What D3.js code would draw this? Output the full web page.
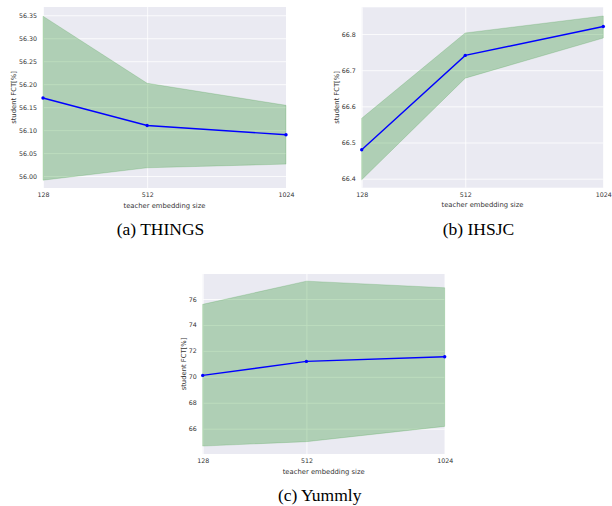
<!DOCTYPE html>
<html>
<head>
<meta charset="utf-8">
<script src="https://cdn.jsdelivr.net/npm/d3@7"></script>
<style>
  body { margin: 0; background: #fff; }
  text { font-family: "DejaVu Sans", sans-serif; }
</style>
</head>
<body>
<div id="area"></div>
<script>
// teacher embedding sizes (x)
var sizes = [128, 512, 1024];

// THINGS
var thingsMean = [56.17, 56.11, 56.09];
var thingsLow = [55.991, 56.018, 56.026];
var thingsHigh = [56.348, 56.202, 56.154];
var thingsTicks = [56.00, 56.05, 56.10, 56.15, 56.20, 56.25, 56.30, 56.35];

// IHSJC
var ihsjcMean = [66.48, 66.741, 66.821];
var ihsjcLow = [66.397, 66.678, 66.789];
var ihsjcHigh = [66.567, 66.803, 66.85];
var ihsjcTicks = [66.4, 66.5, 66.6, 66.7, 66.8];

// Yummly
var yummlyMean = [70.11, 71.19, 71.55];
var yummlyLow = [64.66, 65.0, 66.18];
var yummlyHigh = [75.59, 77.38, 76.87];
var yummlyTicks = [66, 68, 70, 72, 74, 76];

var panels = [
  { caption: "(a) THINGS", mean: thingsMean, low: thingsLow, high: thingsHigh,
    ticks: thingsTicks, fmt: ".2f", ylim: [55.974, 56.368],
    left: 43, right: 286, top: 7, bottom: 188 },
  { caption: "(b) IHSJC", mean: ihsjcMean, low: ihsjcLow, high: ihsjcHigh,
    ticks: ihsjcTicks, fmt: ".1f", ylim: [66.375, 66.874],
    left: 361.7, right: 603.3, top: 7.3, bottom: 187.7 },
  { caption: "(c) Yummly", mean: yummlyMean, low: yummlyLow, high: yummlyHigh,
    ticks: yummlyTicks, fmt: "d", ylim: [64.05, 77.93],
    left: 202.7, right: 444.7, top: 274, bottom: 454 }
];

var svg = d3.select("#area").append("svg")
  .attr("width", 612)
  .attr("height", 506);

panels.forEach(function (p) {
  var w = p.right - p.left, h = p.bottom - p.top;
  var g = svg.append("g").attr("transform", "translate(" + p.left + "," + p.top + ")");

  var x = d3.scaleLinear().domain([128, 1024]).range([0, w]);
  var y = d3.scaleLinear().domain(p.ylim).range([h, 0]);

  g.append("rect").attr("width", w).attr("height", h).attr("fill", "#eaeaf2");

  // y grid + labels
  var ya = g.append("g")
    .call(d3.axisLeft(y).tickValues(p.ticks).tickFormat(d3.format(p.fmt))
      .tickSize(-w).tickPadding(6));
  ya.select(".domain").remove();
  ya.selectAll("line").attr("stroke", "#fff").attr("stroke-width", 0.8);
  ya.selectAll("text").attr("fill", "#333").style("font-size", "6.3px")
    .style("font-family", "DejaVu Sans");

  // x grid + labels
  var xa = g.append("g").attr("transform", "translate(0," + h + ")")
    .call(d3.axisBottom(x).tickValues(sizes).tickFormat(d3.format("d"))
      .tickSize(-h).tickPadding(5));
  xa.select(".domain").remove();
  xa.selectAll("line").attr("stroke", "#fff").attr("stroke-width", 0.8);
  xa.selectAll("text").attr("fill", "#333").style("font-size", "6.3px")
    .style("font-family", "DejaVu Sans");

  // band
  var area = d3.area()
    .x(function (d, i) { return x(sizes[i]); })
    .y0(function (d, i) { return y(p.low[i]); })
    .y1(function (d, i) { return y(p.high[i]); });
  g.append("path").datum(p.mean).attr("d", area)
    .attr("fill", "green").attr("fill-opacity", 0.25)
    .attr("stroke", "green").attr("stroke-opacity", 0.2).attr("stroke-width", 0.8);

  // mean line
  var line = d3.line()
    .x(function (d, i) { return x(sizes[i]); })
    .y(function (d) { return y(d); });
  g.append("path").datum(p.mean).attr("d", line)
    .attr("fill", "none").attr("stroke", "#0000ff").attr("stroke-width", 1.4);
  g.selectAll(".dot").data(p.mean).enter().append("circle")
    .attr("cx", function (d, i) { return x(sizes[i]); })
    .attr("cy", function (d) { return y(d); })
    .attr("r", 1.7).attr("fill", "#0000ff");

  // axis titles
  g.append("text")
    .attr("x", w / 2).attr("y", h + 19.5)
    .attr("text-anchor", "middle").attr("fill", "#333")
    .style("font-size", "6.8px")
    .text("teacher embedding size");

  var bb = ya.node().getBBox();
  g.append("text")
    .attr("transform", "translate(" + (bb.x - 3) + "," + (h / 2) + ") rotate(-90)")
    .attr("text-anchor", "middle").attr("fill", "#333")
    .style("font-size", "6.8px")
    .text("student FCT[%]");

  // caption
  svg.append("text")
    .attr("x", (p.left + p.right) / 2 - 4).attr("y", p.bottom + 47)
    .attr("text-anchor", "middle").attr("fill", "#000")
    .style("font-family", "Liberation Serif, serif").style("font-size", "17.5px")
    .text(p.caption);
});
</script>
</body>
</html>
